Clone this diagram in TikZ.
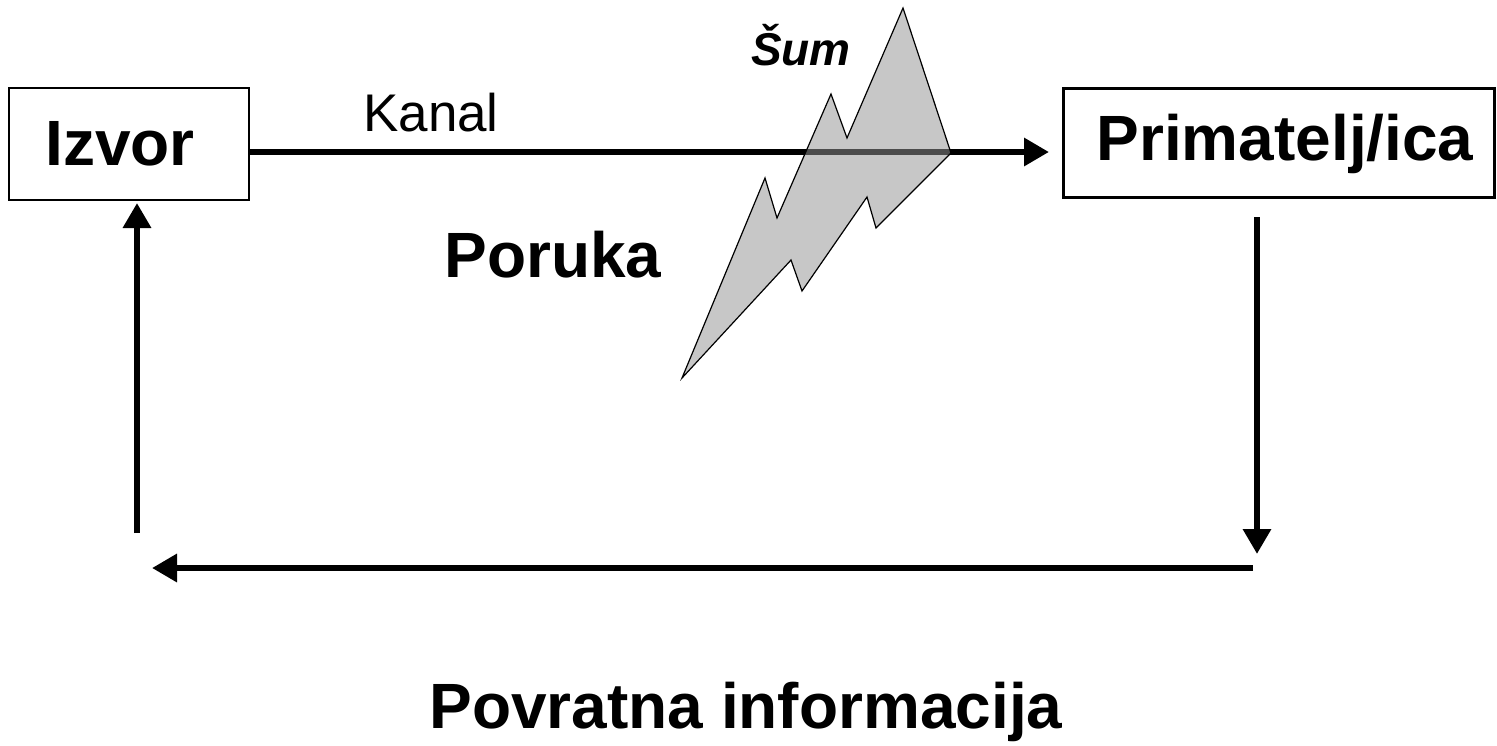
\documentclass[tikz,border=0pt]{standalone}
\usepackage{fontspec}
\setmainfont{Liberation Sans}
\usetikzlibrary{arrows.meta,calc}
\tikzset{
  box/.style={draw, inner sep=0pt, anchor=center},
  arr/.style={line width=6.5pt, -{Triangle[length=25pt,width=27pt]}},
  bolt/.style={draw=black, line width=1.2pt, fill={rgb,1:red,0.577;green,0.577;blue,0.577}, fill opacity=0.52, line join=miter},
  big/.style={font=\fontsize{64}{72}\selectfont\bfseries, inner sep=0pt},
}
\begin{document}
\begin{tikzpicture}[x=1pt,y=-1pt]
\useasboundingbox (0,0) rectangle (1497,745);
% boxes
\node[box, line width=1.5pt, minimum width=240pt, minimum height=112pt] (izvor) at (129,144) {};
\node[big] (izvortxt) at (120,144) {Izvor};
\node[box, line width=3pt, minimum width=431pt, minimum height=109pt] (prim) at (1279,143) {};
\node[big] (primtxt) at (1285,144) {Primatelj/ica};
% channel
\coordinate (kstart) at (izvor.east |- 0,152);
\coordinate (kend) at (1049,152);
\draw[arr] (kstart) -- (kend);
% bolt
\draw[bolt] (903,8) -- (951,153) -- (876,228) -- (867,197) -- (802,291) -- (791,260)
  -- (682,378) -- (765,178) -- (777,218) -- (831,94) -- (847,138) -- cycle;
% feedback loop
\coordinate (r1) at (1257,217);
\coordinate (r2) at (1257,554);
\draw[arr] (r1) -- (r2);
\coordinate (b1) at (1253,568);
\coordinate (b2) at (152,568);
\draw[arr] (b1) -- (b2);
\coordinate (l1) at (137,533);
\coordinate (l2) at (137,203);
\draw[arr] (l1) -- (l2);
% labels
\node[font=\fontsize{53}{60}\selectfont, inner sep=0pt] (kanal) at (431,113) {Kanal};
\node[font=\fontsize{46}{52}\selectfont\bfseries\itshape, inner sep=0pt] (sum) at (801,45) {Šum};
\node[big] (poruka) at (553,255) {Poruka};
\node[big] (povratna) at (746,712) {Povratna informacija};
\end{tikzpicture}
\end{document}
